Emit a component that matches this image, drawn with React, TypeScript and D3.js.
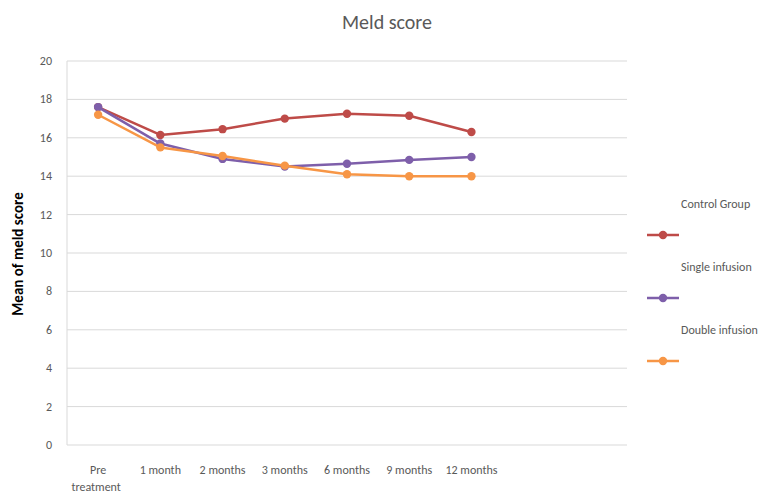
import React from "react";
import * as d3 from "d3";

const categories = ["Pre\ntreatment", "1  month", "2 months", "3 months", "6 months", "9 months", "12 months", "", " "];
const seriesNames = ["Control Group", "Single infusion", "Double infusion"];
const controlValues = [17.6, 16.15, 16.45, 17.0, 17.25, 17.15, 16.3];
const singleValues = [17.6, 15.7, 14.9, 14.5, 14.65, 14.85, 15.0];
const doubleValues = [17.2, 15.5, 15.05, 14.55, 14.1, 14.0, 14.0];
const yTicks = [0, 2, 4, 6, 8, 10, 12, 14, 16, 18, 20];
const colors = ["#BE4B48", "#7E5FAA", "#F79646"];

export default function App() {
  const W = 769, H = 499;
  const left = 67, right = 627, top = 61, bottom = 445;
  const x = d3.scaleBand<string>().domain(categories).range([left, right]);
  const y = d3.scaleLinear().domain([0, 20]).range([bottom, top]);
  const xc = (i: number) => (x(categories[i]) as number) + x.bandwidth() / 2;
  const line = d3.line<number>().x((_, i) => xc(i)).y((d) => y(d));
  const series = [controlValues, singleValues, doubleValues];
  const font = "Calibri, Carlito, Lato, 'Open Sans', sans-serif";
  return (
    <svg width={W} height={H} style={{ position: "absolute", left: 0, top: 0, background: "#fff" }} fontFamily={font}>
      <text x={387} y={29} textAnchor="middle" fontSize={20} fill="#595959">Meld score</text>
      {yTicks.map((t) => (
        <g key={t}>
          <line x1={left} x2={right} y1={y(t)} y2={y(t)} stroke="#D9D9D9" strokeWidth={1} />
          <text x={52} y={y(t) + 4} textAnchor="end" fontSize={12} fill="#595959">{t}</text>
        </g>
      ))}
      <line x1={left} x2={left} y1={top} y2={bottom} stroke="#D9D9D9" strokeWidth={1} />
      {categories.slice(0, 7).map((c, i) => {
        const parts = c.split("\n");
        return (
          <text key={i} x={xc(i)} y={474} textAnchor="middle" fontSize={12} fill="#595959">
            {parts.map((p, j) => (
              <tspan key={j} x={xc(i) + (j === 1 ? -2 : 0)} dy={j === 0 ? 0 : 17}>{p}</tspan>
            ))}
          </text>
        );
      })}
      <text transform={`translate(23,${254}) rotate(-90)`} textAnchor="middle" fontSize={15} fontWeight="bold" fill="#000">Mean of meld score</text>
      {series.map((s, k) => (
        <g key={k}>
          <path d={line(s) as string} fill="none" stroke={colors[k]} strokeWidth={2.5} strokeLinejoin="round" />
          {s.map((v, i) => (
            <circle key={i} cx={xc(i)} cy={y(v)} r={4.2} fill={colors[k]} />
          ))}
        </g>
      ))}
      {seriesNames.map((n, k) => (
        <g key={n}>
          <text x={681} y={208 + k * 63} fontSize={12} fill="#595959">{n}</text>
          <line x1={647} x2={679} y1={235 + k * 63} y2={235 + k * 63} stroke={colors[k]} strokeWidth={2.5} />
          <circle cx={663} cy={235 + k * 63} r={4.2} fill={colors[k]} />
        </g>
      ))}
    </svg>
  );
}
